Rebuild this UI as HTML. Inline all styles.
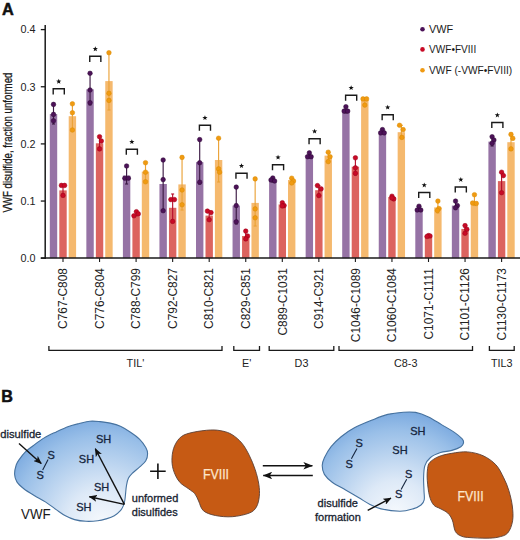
<!DOCTYPE html>
<html><head><meta charset="utf-8"><style>
html,body{margin:0;padding:0;background:#fff;width:520px;height:540px;overflow:hidden;}
svg{display:block;}
text{font-family:"Liberation Sans",sans-serif;}
</style></head><body>
<svg width="520" height="540" viewBox="0 0 520 540">
<rect width="520" height="540" fill="#fff"/>
<text x="2" y="14.8"  font-weight="bold" font-size="16.3" fill="#111" stroke="#111" stroke-width="0.5">A</text>
<text transform="translate(12.2,212.6) rotate(-90)"  font-size="12.6" fill="#1a1a1a" stroke="#1a1a1a" stroke-width="0.3" textLength="140" lengthAdjust="spacingAndGlyphs">VWF disulfide, fraction unformed</text>
<line x1="40.8" y1="258.20" x2="45.2" y2="258.20" stroke="#1a1a1a" stroke-width="1.3"/>
<text x="35.4" y="262.00" text-anchor="end"  font-size="10.8" fill="#222">0.0</text>
<line x1="40.8" y1="201.05" x2="45.2" y2="201.05" stroke="#1a1a1a" stroke-width="1.3"/>
<text x="35.4" y="204.85" text-anchor="end"  font-size="10.8" fill="#222">0.1</text>
<line x1="40.8" y1="143.90" x2="45.2" y2="143.90" stroke="#1a1a1a" stroke-width="1.3"/>
<text x="35.4" y="147.70" text-anchor="end"  font-size="10.8" fill="#222">0.2</text>
<line x1="40.8" y1="86.75" x2="45.2" y2="86.75" stroke="#1a1a1a" stroke-width="1.3"/>
<text x="35.4" y="90.55" text-anchor="end"  font-size="10.8" fill="#222">0.3</text>
<line x1="40.8" y1="29.60" x2="45.2" y2="29.60" stroke="#1a1a1a" stroke-width="1.3"/>
<text x="35.4" y="33.40" text-anchor="end"  font-size="10.8" fill="#222">0.4</text>
<rect x="49.80" y="114.10" width="7.4" height="144.10" fill="#9673a5"/>
<rect x="59.30" y="190.40" width="7.4" height="67.80" fill="#dc645f"/>
<rect x="68.70" y="116.20" width="7.4" height="142.00" fill="#f5b96e"/>
<rect x="86.35" y="89.30" width="7.4" height="168.90" fill="#9673a5"/>
<rect x="95.85" y="143.30" width="7.4" height="114.90" fill="#dc645f"/>
<rect x="105.25" y="81.10" width="7.4" height="177.10" fill="#f5b96e"/>
<rect x="122.90" y="175.60" width="7.4" height="82.60" fill="#9673a5"/>
<rect x="132.40" y="216.20" width="7.4" height="42.00" fill="#dc645f"/>
<rect x="141.80" y="171.60" width="7.4" height="86.60" fill="#f5b96e"/>
<rect x="159.45" y="184.00" width="7.4" height="74.20" fill="#9673a5"/>
<rect x="168.95" y="207.80" width="7.4" height="50.40" fill="#dc645f"/>
<rect x="178.35" y="184.40" width="7.4" height="73.80" fill="#f5b96e"/>
<rect x="196.00" y="162.20" width="7.4" height="96.00" fill="#9673a5"/>
<rect x="205.50" y="215.60" width="7.4" height="42.60" fill="#dc645f"/>
<rect x="214.90" y="160.00" width="7.4" height="98.20" fill="#f5b96e"/>
<rect x="232.55" y="205.60" width="7.4" height="52.60" fill="#9673a5"/>
<rect x="242.05" y="236.00" width="7.4" height="22.20" fill="#dc645f"/>
<rect x="251.45" y="202.90" width="7.4" height="55.30" fill="#f5b96e"/>
<rect x="269.10" y="180.00" width="7.4" height="78.20" fill="#9673a5"/>
<rect x="278.60" y="204.40" width="7.4" height="53.80" fill="#dc645f"/>
<rect x="288.00" y="180.00" width="7.4" height="78.20" fill="#f5b96e"/>
<rect x="305.65" y="155.60" width="7.4" height="102.60" fill="#9673a5"/>
<rect x="315.15" y="190.20" width="7.4" height="68.00" fill="#dc645f"/>
<rect x="324.55" y="155.60" width="7.4" height="102.60" fill="#f5b96e"/>
<rect x="342.20" y="110.00" width="7.4" height="148.20" fill="#9673a5"/>
<rect x="351.70" y="166.70" width="7.4" height="91.50" fill="#dc645f"/>
<rect x="361.10" y="100.00" width="7.4" height="158.20" fill="#f5b96e"/>
<rect x="378.75" y="131.10" width="7.4" height="127.10" fill="#9673a5"/>
<rect x="388.25" y="197.00" width="7.4" height="61.20" fill="#dc645f"/>
<rect x="397.65" y="132.20" width="7.4" height="126.00" fill="#f5b96e"/>
<rect x="415.30" y="208.90" width="7.4" height="49.30" fill="#9673a5"/>
<rect x="424.80" y="236.70" width="7.4" height="21.50" fill="#dc645f"/>
<rect x="434.20" y="207.40" width="7.4" height="50.80" fill="#f5b96e"/>
<rect x="451.85" y="205.60" width="7.4" height="52.60" fill="#9673a5"/>
<rect x="461.35" y="228.90" width="7.4" height="29.30" fill="#dc645f"/>
<rect x="470.75" y="201.50" width="7.4" height="56.70" fill="#f5b96e"/>
<rect x="488.40" y="141.60" width="7.4" height="116.60" fill="#9673a5"/>
<rect x="497.90" y="181.10" width="7.4" height="77.10" fill="#dc645f"/>
<rect x="507.30" y="142.20" width="7.4" height="116.00" fill="#f5b96e"/>
<line x1="53.50" y1="104.40" x2="53.50" y2="124.00" stroke="#3c1a44" stroke-width="1.15"/>
<line x1="52.00" y1="104.40" x2="55.00" y2="104.40" stroke="#3c1a44" stroke-width="1.15"/>
<line x1="52.00" y1="124.00" x2="55.00" y2="124.00" stroke="#3c1a44" stroke-width="1.15"/>
<circle cx="53.50" cy="104.40" r="2.3" fill="#4c1258" stroke="#2e0836" stroke-width="0.5"/>
<circle cx="53.50" cy="114.40" r="2.3" fill="#4c1258" stroke="#2e0836" stroke-width="0.5"/>
<circle cx="53.50" cy="120.80" r="2.3" fill="#4c1258" stroke="#2e0836" stroke-width="0.5"/>
<line x1="63.00" y1="185.00" x2="63.00" y2="195.40" stroke="#b8102c" stroke-width="1.15"/>
<line x1="61.50" y1="185.00" x2="64.50" y2="185.00" stroke="#b8102c" stroke-width="1.15"/>
<line x1="61.50" y1="195.40" x2="64.50" y2="195.40" stroke="#b8102c" stroke-width="1.15"/>
<circle cx="61.40" cy="185.40" r="2.3" fill="#c80a26" stroke="#9a0018" stroke-width="0.5"/>
<circle cx="64.60" cy="185.40" r="2.3" fill="#c80a26" stroke="#9a0018" stroke-width="0.5"/>
<circle cx="63.00" cy="195.40" r="2.3" fill="#c80a26" stroke="#9a0018" stroke-width="0.5"/>
<line x1="72.40" y1="103.80" x2="72.40" y2="130.00" stroke="#eba238" stroke-width="1.15"/>
<line x1="70.90" y1="103.80" x2="73.90" y2="103.80" stroke="#eba238" stroke-width="1.15"/>
<line x1="70.90" y1="130.00" x2="73.90" y2="130.00" stroke="#eba238" stroke-width="1.15"/>
<circle cx="72.40" cy="103.80" r="2.3" fill="#f09a12" stroke="#d88a00" stroke-width="0.5"/>
<circle cx="72.40" cy="112.70" r="2.3" fill="#f09a12" stroke="#d88a00" stroke-width="0.5"/>
<circle cx="72.40" cy="130.00" r="2.3" fill="#f09a12" stroke="#d88a00" stroke-width="0.5"/>
<path d="M53.20 94.40V88.80H64.30V94.40" fill="none" stroke="#1a1a1a" stroke-width="1.4"/>
<polygon points="58.75,78.75 59.43,80.57 61.37,80.65 59.84,81.86 60.37,83.72 58.75,82.65 57.13,83.72 57.66,81.86 56.13,80.65 58.07,80.57" fill="#111"/>
<line x1="90.05" y1="73.30" x2="90.05" y2="105.00" stroke="#3c1a44" stroke-width="1.15"/>
<line x1="88.55" y1="73.30" x2="91.55" y2="73.30" stroke="#3c1a44" stroke-width="1.15"/>
<line x1="88.55" y1="105.00" x2="91.55" y2="105.00" stroke="#3c1a44" stroke-width="1.15"/>
<circle cx="90.05" cy="73.30" r="2.3" fill="#4c1258" stroke="#2e0836" stroke-width="0.5"/>
<circle cx="90.05" cy="90.00" r="2.3" fill="#4c1258" stroke="#2e0836" stroke-width="0.5"/>
<circle cx="90.05" cy="102.70" r="2.3" fill="#4c1258" stroke="#2e0836" stroke-width="0.5"/>
<line x1="99.55" y1="136.70" x2="99.55" y2="150.00" stroke="#b8102c" stroke-width="1.15"/>
<line x1="98.05" y1="136.70" x2="101.05" y2="136.70" stroke="#b8102c" stroke-width="1.15"/>
<line x1="98.05" y1="150.00" x2="101.05" y2="150.00" stroke="#b8102c" stroke-width="1.15"/>
<circle cx="99.55" cy="136.70" r="2.3" fill="#c80a26" stroke="#9a0018" stroke-width="0.5"/>
<circle cx="101.35" cy="141.00" r="2.3" fill="#c80a26" stroke="#9a0018" stroke-width="0.5"/>
<circle cx="99.55" cy="148.90" r="2.3" fill="#c80a26" stroke="#9a0018" stroke-width="0.5"/>
<line x1="108.95" y1="52.70" x2="108.95" y2="110.00" stroke="#eba238" stroke-width="1.15"/>
<line x1="107.45" y1="52.70" x2="110.45" y2="52.70" stroke="#eba238" stroke-width="1.15"/>
<line x1="107.45" y1="110.00" x2="110.45" y2="110.00" stroke="#eba238" stroke-width="1.15"/>
<circle cx="108.95" cy="52.70" r="2.3" fill="#f09a12" stroke="#d88a00" stroke-width="0.5"/>
<circle cx="108.95" cy="93.30" r="2.3" fill="#f09a12" stroke="#d88a00" stroke-width="0.5"/>
<circle cx="108.95" cy="100.40" r="2.3" fill="#f09a12" stroke="#d88a00" stroke-width="0.5"/>
<path d="M89.75 61.90V56.30H100.85V61.90" fill="none" stroke="#1a1a1a" stroke-width="1.4"/>
<polygon points="95.30,46.25 95.98,48.07 97.92,48.15 96.39,49.36 96.92,51.22 95.30,50.15 93.68,51.22 94.21,49.36 92.68,48.15 94.62,48.07" fill="#111"/>
<line x1="126.60" y1="166.00" x2="126.60" y2="184.00" stroke="#3c1a44" stroke-width="1.15"/>
<line x1="125.10" y1="166.00" x2="128.10" y2="166.00" stroke="#3c1a44" stroke-width="1.15"/>
<line x1="125.10" y1="184.00" x2="128.10" y2="184.00" stroke="#3c1a44" stroke-width="1.15"/>
<circle cx="126.60" cy="166.00" r="2.3" fill="#4c1258" stroke="#2e0836" stroke-width="0.5"/>
<circle cx="124.80" cy="178.20" r="2.3" fill="#4c1258" stroke="#2e0836" stroke-width="0.5"/>
<circle cx="128.40" cy="178.20" r="2.3" fill="#4c1258" stroke="#2e0836" stroke-width="0.5"/>
<line x1="136.10" y1="211.70" x2="136.10" y2="216.00" stroke="#b8102c" stroke-width="1.15"/>
<line x1="134.60" y1="211.70" x2="137.60" y2="211.70" stroke="#b8102c" stroke-width="1.15"/>
<line x1="134.60" y1="216.00" x2="137.60" y2="216.00" stroke="#b8102c" stroke-width="1.15"/>
<circle cx="136.40" cy="211.70" r="2.3" fill="#c80a26" stroke="#9a0018" stroke-width="0.5"/>
<circle cx="138.30" cy="213.90" r="2.3" fill="#c80a26" stroke="#9a0018" stroke-width="0.5"/>
<circle cx="133.90" cy="215.80" r="2.3" fill="#c80a26" stroke="#9a0018" stroke-width="0.5"/>
<line x1="145.50" y1="162.70" x2="145.50" y2="181.80" stroke="#eba238" stroke-width="1.15"/>
<line x1="144.00" y1="162.70" x2="147.00" y2="162.70" stroke="#eba238" stroke-width="1.15"/>
<line x1="144.00" y1="181.80" x2="147.00" y2="181.80" stroke="#eba238" stroke-width="1.15"/>
<circle cx="145.50" cy="162.70" r="2.3" fill="#f09a12" stroke="#d88a00" stroke-width="0.5"/>
<circle cx="145.50" cy="172.20" r="2.3" fill="#f09a12" stroke="#d88a00" stroke-width="0.5"/>
<circle cx="145.50" cy="181.80" r="2.3" fill="#f09a12" stroke="#d88a00" stroke-width="0.5"/>
<path d="M126.30 154.80V149.20H137.40V154.80" fill="none" stroke="#1a1a1a" stroke-width="1.4"/>
<polygon points="131.85,139.15 132.53,140.97 134.47,141.05 132.94,142.26 133.47,144.12 131.85,143.05 130.23,144.12 130.76,142.26 129.23,141.05 131.17,140.97" fill="#111"/>
<line x1="163.15" y1="160.00" x2="163.15" y2="210.70" stroke="#3c1a44" stroke-width="1.15"/>
<line x1="161.65" y1="160.00" x2="164.65" y2="160.00" stroke="#3c1a44" stroke-width="1.15"/>
<line x1="161.65" y1="210.70" x2="164.65" y2="210.70" stroke="#3c1a44" stroke-width="1.15"/>
<circle cx="163.15" cy="160.00" r="2.3" fill="#4c1258" stroke="#2e0836" stroke-width="0.5"/>
<circle cx="163.15" cy="179.60" r="2.3" fill="#4c1258" stroke="#2e0836" stroke-width="0.5"/>
<circle cx="163.15" cy="210.70" r="2.3" fill="#4c1258" stroke="#2e0836" stroke-width="0.5"/>
<line x1="172.65" y1="194.00" x2="172.65" y2="221.40" stroke="#b8102c" stroke-width="1.15"/>
<line x1="171.15" y1="194.00" x2="174.15" y2="194.00" stroke="#b8102c" stroke-width="1.15"/>
<line x1="171.15" y1="221.40" x2="174.15" y2="221.40" stroke="#b8102c" stroke-width="1.15"/>
<circle cx="170.85" cy="199.60" r="2.3" fill="#c80a26" stroke="#9a0018" stroke-width="0.5"/>
<circle cx="174.45" cy="199.60" r="2.3" fill="#c80a26" stroke="#9a0018" stroke-width="0.5"/>
<circle cx="172.65" cy="221.40" r="2.3" fill="#c80a26" stroke="#9a0018" stroke-width="0.5"/>
<line x1="182.05" y1="157.40" x2="182.05" y2="210.00" stroke="#eba238" stroke-width="1.15"/>
<line x1="180.55" y1="157.40" x2="183.55" y2="157.40" stroke="#eba238" stroke-width="1.15"/>
<line x1="180.55" y1="210.00" x2="183.55" y2="210.00" stroke="#eba238" stroke-width="1.15"/>
<circle cx="182.05" cy="157.40" r="2.3" fill="#f09a12" stroke="#d88a00" stroke-width="0.5"/>
<circle cx="182.05" cy="190.00" r="2.3" fill="#f09a12" stroke="#d88a00" stroke-width="0.5"/>
<circle cx="182.05" cy="204.80" r="2.3" fill="#f09a12" stroke="#d88a00" stroke-width="0.5"/>
<line x1="199.70" y1="139.60" x2="199.70" y2="184.00" stroke="#3c1a44" stroke-width="1.15"/>
<line x1="198.20" y1="139.60" x2="201.20" y2="139.60" stroke="#3c1a44" stroke-width="1.15"/>
<line x1="198.20" y1="184.00" x2="201.20" y2="184.00" stroke="#3c1a44" stroke-width="1.15"/>
<circle cx="199.70" cy="139.60" r="2.3" fill="#4c1258" stroke="#2e0836" stroke-width="0.5"/>
<circle cx="199.70" cy="162.70" r="2.3" fill="#4c1258" stroke="#2e0836" stroke-width="0.5"/>
<circle cx="199.70" cy="182.20" r="2.3" fill="#4c1258" stroke="#2e0836" stroke-width="0.5"/>
<line x1="209.20" y1="211.00" x2="209.20" y2="220.00" stroke="#b8102c" stroke-width="1.15"/>
<line x1="207.70" y1="211.00" x2="210.70" y2="211.00" stroke="#b8102c" stroke-width="1.15"/>
<line x1="207.70" y1="220.00" x2="210.70" y2="220.00" stroke="#b8102c" stroke-width="1.15"/>
<circle cx="207.40" cy="211.10" r="2.3" fill="#c80a26" stroke="#9a0018" stroke-width="0.5"/>
<circle cx="211.00" cy="212.60" r="2.3" fill="#c80a26" stroke="#9a0018" stroke-width="0.5"/>
<circle cx="209.20" cy="219.70" r="2.3" fill="#c80a26" stroke="#9a0018" stroke-width="0.5"/>
<line x1="218.60" y1="138.20" x2="218.60" y2="182.00" stroke="#eba238" stroke-width="1.15"/>
<line x1="217.10" y1="138.20" x2="220.10" y2="138.20" stroke="#eba238" stroke-width="1.15"/>
<line x1="217.10" y1="182.00" x2="220.10" y2="182.00" stroke="#eba238" stroke-width="1.15"/>
<circle cx="218.60" cy="138.20" r="2.3" fill="#f09a12" stroke="#d88a00" stroke-width="0.5"/>
<circle cx="218.60" cy="168.90" r="2.3" fill="#f09a12" stroke="#d88a00" stroke-width="0.5"/>
<circle cx="219.60" cy="172.20" r="2.3" fill="#f09a12" stroke="#d88a00" stroke-width="0.5"/>
<path d="M199.40 130.80V125.20H210.50V130.80" fill="none" stroke="#1a1a1a" stroke-width="1.4"/>
<polygon points="204.95,115.15 205.63,116.97 207.57,117.05 206.04,118.26 206.57,120.12 204.95,119.05 203.33,120.12 203.86,118.26 202.33,117.05 204.27,116.97" fill="#111"/>
<line x1="236.25" y1="187.10" x2="236.25" y2="224.00" stroke="#3c1a44" stroke-width="1.15"/>
<line x1="234.75" y1="187.10" x2="237.75" y2="187.10" stroke="#3c1a44" stroke-width="1.15"/>
<line x1="234.75" y1="224.00" x2="237.75" y2="224.00" stroke="#3c1a44" stroke-width="1.15"/>
<circle cx="236.25" cy="187.10" r="2.3" fill="#4c1258" stroke="#2e0836" stroke-width="0.5"/>
<circle cx="236.25" cy="205.60" r="2.3" fill="#4c1258" stroke="#2e0836" stroke-width="0.5"/>
<circle cx="236.25" cy="221.80" r="2.3" fill="#4c1258" stroke="#2e0836" stroke-width="0.5"/>
<line x1="245.75" y1="231.00" x2="245.75" y2="240.00" stroke="#b8102c" stroke-width="1.15"/>
<line x1="244.25" y1="231.00" x2="247.25" y2="231.00" stroke="#b8102c" stroke-width="1.15"/>
<line x1="244.25" y1="240.00" x2="247.25" y2="240.00" stroke="#b8102c" stroke-width="1.15"/>
<circle cx="245.75" cy="231.10" r="2.3" fill="#c80a26" stroke="#9a0018" stroke-width="0.5"/>
<circle cx="247.55" cy="236.00" r="2.3" fill="#c80a26" stroke="#9a0018" stroke-width="0.5"/>
<circle cx="245.75" cy="238.90" r="2.3" fill="#c80a26" stroke="#9a0018" stroke-width="0.5"/>
<line x1="255.15" y1="178.90" x2="255.15" y2="226.00" stroke="#eba238" stroke-width="1.15"/>
<line x1="253.65" y1="178.90" x2="256.65" y2="178.90" stroke="#eba238" stroke-width="1.15"/>
<line x1="253.65" y1="226.00" x2="256.65" y2="226.00" stroke="#eba238" stroke-width="1.15"/>
<circle cx="255.15" cy="178.90" r="2.3" fill="#f09a12" stroke="#d88a00" stroke-width="0.5"/>
<circle cx="255.15" cy="208.90" r="2.3" fill="#f09a12" stroke="#d88a00" stroke-width="0.5"/>
<circle cx="255.15" cy="217.80" r="2.3" fill="#f09a12" stroke="#d88a00" stroke-width="0.5"/>
<path d="M235.95 178.80V173.20H247.05V178.80" fill="none" stroke="#1a1a1a" stroke-width="1.4"/>
<polygon points="241.50,163.15 242.18,164.97 244.12,165.05 242.59,166.26 243.12,168.12 241.50,167.05 239.88,168.12 240.41,166.26 238.88,165.05 240.82,164.97" fill="#111"/>
<line x1="272.80" y1="178.00" x2="272.80" y2="182.00" stroke="#3c1a44" stroke-width="1.15"/>
<line x1="271.30" y1="178.00" x2="274.30" y2="178.00" stroke="#3c1a44" stroke-width="1.15"/>
<line x1="271.30" y1="182.00" x2="274.30" y2="182.00" stroke="#3c1a44" stroke-width="1.15"/>
<circle cx="272.80" cy="178.00" r="2.3" fill="#4c1258" stroke="#2e0836" stroke-width="0.5"/>
<circle cx="271.00" cy="180.00" r="2.3" fill="#4c1258" stroke="#2e0836" stroke-width="0.5"/>
<circle cx="274.60" cy="181.00" r="2.3" fill="#4c1258" stroke="#2e0836" stroke-width="0.5"/>
<line x1="282.30" y1="202.00" x2="282.30" y2="206.00" stroke="#b8102c" stroke-width="1.15"/>
<line x1="280.80" y1="202.00" x2="283.80" y2="202.00" stroke="#b8102c" stroke-width="1.15"/>
<line x1="280.80" y1="206.00" x2="283.80" y2="206.00" stroke="#b8102c" stroke-width="1.15"/>
<circle cx="282.30" cy="202.70" r="2.3" fill="#c80a26" stroke="#9a0018" stroke-width="0.5"/>
<circle cx="284.10" cy="205.60" r="2.3" fill="#c80a26" stroke="#9a0018" stroke-width="0.5"/>
<circle cx="282.30" cy="206.00" r="2.3" fill="#c80a26" stroke="#9a0018" stroke-width="0.5"/>
<line x1="291.70" y1="178.00" x2="291.70" y2="183.00" stroke="#eba238" stroke-width="1.15"/>
<line x1="290.20" y1="178.00" x2="293.20" y2="178.00" stroke="#eba238" stroke-width="1.15"/>
<line x1="290.20" y1="183.00" x2="293.20" y2="183.00" stroke="#eba238" stroke-width="1.15"/>
<circle cx="291.70" cy="178.20" r="2.3" fill="#f09a12" stroke="#d88a00" stroke-width="0.5"/>
<circle cx="293.50" cy="181.00" r="2.3" fill="#f09a12" stroke="#d88a00" stroke-width="0.5"/>
<circle cx="291.70" cy="183.00" r="2.3" fill="#f09a12" stroke="#d88a00" stroke-width="0.5"/>
<path d="M272.50 170.30V164.70H283.60V170.30" fill="none" stroke="#1a1a1a" stroke-width="1.4"/>
<polygon points="278.05,154.65 278.73,156.47 280.67,156.55 279.14,157.76 279.67,159.62 278.05,158.55 276.43,159.62 276.96,157.76 275.43,156.55 277.37,156.47" fill="#111"/>
<line x1="309.35" y1="152.90" x2="309.35" y2="158.00" stroke="#3c1a44" stroke-width="1.15"/>
<line x1="307.85" y1="152.90" x2="310.85" y2="152.90" stroke="#3c1a44" stroke-width="1.15"/>
<line x1="307.85" y1="158.00" x2="310.85" y2="158.00" stroke="#3c1a44" stroke-width="1.15"/>
<circle cx="309.35" cy="152.90" r="2.3" fill="#4c1258" stroke="#2e0836" stroke-width="0.5"/>
<circle cx="307.55" cy="156.70" r="2.3" fill="#4c1258" stroke="#2e0836" stroke-width="0.5"/>
<circle cx="311.15" cy="156.70" r="2.3" fill="#4c1258" stroke="#2e0836" stroke-width="0.5"/>
<line x1="318.85" y1="185.60" x2="318.85" y2="195.60" stroke="#b8102c" stroke-width="1.15"/>
<line x1="317.35" y1="185.60" x2="320.35" y2="185.60" stroke="#b8102c" stroke-width="1.15"/>
<line x1="317.35" y1="195.60" x2="320.35" y2="195.60" stroke="#b8102c" stroke-width="1.15"/>
<circle cx="317.45" cy="185.60" r="2.3" fill="#c80a26" stroke="#9a0018" stroke-width="0.5"/>
<circle cx="321.05" cy="188.90" r="2.3" fill="#c80a26" stroke="#9a0018" stroke-width="0.5"/>
<circle cx="318.85" cy="195.60" r="2.3" fill="#c80a26" stroke="#9a0018" stroke-width="0.5"/>
<line x1="328.25" y1="152.00" x2="328.25" y2="162.00" stroke="#eba238" stroke-width="1.15"/>
<line x1="326.75" y1="152.00" x2="329.75" y2="152.00" stroke="#eba238" stroke-width="1.15"/>
<line x1="326.75" y1="162.00" x2="329.75" y2="162.00" stroke="#eba238" stroke-width="1.15"/>
<circle cx="328.25" cy="152.20" r="2.3" fill="#f09a12" stroke="#d88a00" stroke-width="0.5"/>
<circle cx="330.05" cy="156.70" r="2.3" fill="#f09a12" stroke="#d88a00" stroke-width="0.5"/>
<circle cx="328.25" cy="161.60" r="2.3" fill="#f09a12" stroke="#d88a00" stroke-width="0.5"/>
<path d="M309.05 144.30V138.70H320.15V144.30" fill="none" stroke="#1a1a1a" stroke-width="1.4"/>
<polygon points="314.60,128.65 315.28,130.47 317.22,130.55 315.69,131.76 316.22,133.62 314.60,132.55 312.98,133.62 313.51,131.76 311.98,130.55 313.92,130.47" fill="#111"/>
<line x1="345.90" y1="106.70" x2="345.90" y2="113.00" stroke="#3c1a44" stroke-width="1.15"/>
<line x1="344.40" y1="106.70" x2="347.40" y2="106.70" stroke="#3c1a44" stroke-width="1.15"/>
<line x1="344.40" y1="113.00" x2="347.40" y2="113.00" stroke="#3c1a44" stroke-width="1.15"/>
<circle cx="345.90" cy="106.70" r="2.3" fill="#4c1258" stroke="#2e0836" stroke-width="0.5"/>
<circle cx="344.10" cy="111.10" r="2.3" fill="#4c1258" stroke="#2e0836" stroke-width="0.5"/>
<circle cx="347.70" cy="111.10" r="2.3" fill="#4c1258" stroke="#2e0836" stroke-width="0.5"/>
<line x1="355.40" y1="157.80" x2="355.40" y2="175.00" stroke="#b8102c" stroke-width="1.15"/>
<line x1="353.90" y1="157.80" x2="356.90" y2="157.80" stroke="#b8102c" stroke-width="1.15"/>
<line x1="353.90" y1="175.00" x2="356.90" y2="175.00" stroke="#b8102c" stroke-width="1.15"/>
<circle cx="355.40" cy="157.80" r="2.3" fill="#c80a26" stroke="#9a0018" stroke-width="0.5"/>
<circle cx="355.40" cy="167.80" r="2.3" fill="#c80a26" stroke="#9a0018" stroke-width="0.5"/>
<circle cx="355.40" cy="173.30" r="2.3" fill="#c80a26" stroke="#9a0018" stroke-width="0.5"/>
<line x1="364.80" y1="98.00" x2="364.80" y2="105.00" stroke="#eba238" stroke-width="1.15"/>
<line x1="363.30" y1="98.00" x2="366.30" y2="98.00" stroke="#eba238" stroke-width="1.15"/>
<line x1="363.30" y1="105.00" x2="366.30" y2="105.00" stroke="#eba238" stroke-width="1.15"/>
<circle cx="363.00" cy="98.90" r="2.3" fill="#f09a12" stroke="#d88a00" stroke-width="0.5"/>
<circle cx="366.60" cy="98.90" r="2.3" fill="#f09a12" stroke="#d88a00" stroke-width="0.5"/>
<circle cx="364.80" cy="105.10" r="2.3" fill="#f09a12" stroke="#d88a00" stroke-width="0.5"/>
<path d="M345.60 100.80V95.20H356.70V100.80" fill="none" stroke="#1a1a1a" stroke-width="1.4"/>
<polygon points="351.15,85.15 351.83,86.97 353.77,87.05 352.24,88.26 352.77,90.12 351.15,89.05 349.53,90.12 350.06,88.26 348.53,87.05 350.47,86.97" fill="#111"/>
<line x1="382.45" y1="129.60" x2="382.45" y2="133.00" stroke="#3c1a44" stroke-width="1.15"/>
<line x1="380.95" y1="129.60" x2="383.95" y2="129.60" stroke="#3c1a44" stroke-width="1.15"/>
<line x1="380.95" y1="133.00" x2="383.95" y2="133.00" stroke="#3c1a44" stroke-width="1.15"/>
<circle cx="382.45" cy="129.60" r="2.3" fill="#4c1258" stroke="#2e0836" stroke-width="0.5"/>
<circle cx="380.65" cy="132.90" r="2.3" fill="#4c1258" stroke="#2e0836" stroke-width="0.5"/>
<circle cx="384.25" cy="132.90" r="2.3" fill="#4c1258" stroke="#2e0836" stroke-width="0.5"/>
<line x1="391.95" y1="196.00" x2="391.95" y2="199.00" stroke="#b8102c" stroke-width="1.15"/>
<line x1="390.45" y1="196.00" x2="393.45" y2="196.00" stroke="#b8102c" stroke-width="1.15"/>
<line x1="390.45" y1="199.00" x2="393.45" y2="199.00" stroke="#b8102c" stroke-width="1.15"/>
<circle cx="391.95" cy="196.20" r="2.3" fill="#c80a26" stroke="#9a0018" stroke-width="0.5"/>
<circle cx="393.75" cy="198.90" r="2.3" fill="#c80a26" stroke="#9a0018" stroke-width="0.5"/>
<circle cx="391.95" cy="198.00" r="2.3" fill="#c80a26" stroke="#9a0018" stroke-width="0.5"/>
<line x1="401.35" y1="125.30" x2="401.35" y2="138.00" stroke="#eba238" stroke-width="1.15"/>
<line x1="399.85" y1="125.30" x2="402.85" y2="125.30" stroke="#eba238" stroke-width="1.15"/>
<line x1="399.85" y1="138.00" x2="402.85" y2="138.00" stroke="#eba238" stroke-width="1.15"/>
<circle cx="399.55" cy="125.30" r="2.3" fill="#f09a12" stroke="#d88a00" stroke-width="0.5"/>
<circle cx="403.15" cy="129.60" r="2.3" fill="#f09a12" stroke="#d88a00" stroke-width="0.5"/>
<circle cx="401.85" cy="137.40" r="2.3" fill="#f09a12" stroke="#d88a00" stroke-width="0.5"/>
<path d="M382.15 120.30V114.70H393.25V120.30" fill="none" stroke="#1a1a1a" stroke-width="1.4"/>
<polygon points="387.70,104.65 388.38,106.47 390.32,106.55 388.79,107.76 389.32,109.62 387.70,108.55 386.08,109.62 386.61,107.76 385.08,106.55 387.02,106.47" fill="#111"/>
<line x1="419.00" y1="206.00" x2="419.00" y2="211.00" stroke="#3c1a44" stroke-width="1.15"/>
<line x1="417.50" y1="206.00" x2="420.50" y2="206.00" stroke="#3c1a44" stroke-width="1.15"/>
<line x1="417.50" y1="211.00" x2="420.50" y2="211.00" stroke="#3c1a44" stroke-width="1.15"/>
<circle cx="419.00" cy="206.20" r="2.3" fill="#4c1258" stroke="#2e0836" stroke-width="0.5"/>
<circle cx="417.20" cy="210.00" r="2.3" fill="#4c1258" stroke="#2e0836" stroke-width="0.5"/>
<circle cx="420.80" cy="210.00" r="2.3" fill="#4c1258" stroke="#2e0836" stroke-width="0.5"/>
<line x1="428.50" y1="235.00" x2="428.50" y2="237.00" stroke="#b8102c" stroke-width="1.15"/>
<line x1="427.00" y1="235.00" x2="430.00" y2="235.00" stroke="#b8102c" stroke-width="1.15"/>
<line x1="427.00" y1="237.00" x2="430.00" y2="237.00" stroke="#b8102c" stroke-width="1.15"/>
<circle cx="428.50" cy="235.60" r="2.3" fill="#c80a26" stroke="#9a0018" stroke-width="0.5"/>
<circle cx="430.00" cy="236.00" r="2.3" fill="#c80a26" stroke="#9a0018" stroke-width="0.5"/>
<circle cx="427.00" cy="236.50" r="2.3" fill="#c80a26" stroke="#9a0018" stroke-width="0.5"/>
<line x1="437.90" y1="201.10" x2="437.90" y2="213.00" stroke="#eba238" stroke-width="1.15"/>
<line x1="436.40" y1="201.10" x2="439.40" y2="201.10" stroke="#eba238" stroke-width="1.15"/>
<line x1="436.40" y1="213.00" x2="439.40" y2="213.00" stroke="#eba238" stroke-width="1.15"/>
<circle cx="437.90" cy="201.10" r="2.3" fill="#f09a12" stroke="#d88a00" stroke-width="0.5"/>
<circle cx="438.90" cy="208.50" r="2.3" fill="#f09a12" stroke="#d88a00" stroke-width="0.5"/>
<circle cx="437.40" cy="210.50" r="2.3" fill="#f09a12" stroke="#d88a00" stroke-width="0.5"/>
<path d="M418.70 198.10V192.50H429.80V198.10" fill="none" stroke="#1a1a1a" stroke-width="1.4"/>
<polygon points="424.25,182.45 424.93,184.27 426.87,184.35 425.34,185.56 425.87,187.42 424.25,186.35 422.63,187.42 423.16,185.56 421.63,184.35 423.57,184.27" fill="#111"/>
<line x1="455.55" y1="201.00" x2="455.55" y2="209.00" stroke="#3c1a44" stroke-width="1.15"/>
<line x1="454.05" y1="201.00" x2="457.05" y2="201.00" stroke="#3c1a44" stroke-width="1.15"/>
<line x1="454.05" y1="209.00" x2="457.05" y2="209.00" stroke="#3c1a44" stroke-width="1.15"/>
<circle cx="455.55" cy="201.10" r="2.3" fill="#4c1258" stroke="#2e0836" stroke-width="0.5"/>
<circle cx="457.35" cy="205.60" r="2.3" fill="#4c1258" stroke="#2e0836" stroke-width="0.5"/>
<circle cx="455.55" cy="207.80" r="2.3" fill="#4c1258" stroke="#2e0836" stroke-width="0.5"/>
<line x1="465.05" y1="225.60" x2="465.05" y2="233.00" stroke="#b8102c" stroke-width="1.15"/>
<line x1="463.55" y1="225.60" x2="466.55" y2="225.60" stroke="#b8102c" stroke-width="1.15"/>
<line x1="463.55" y1="233.00" x2="466.55" y2="233.00" stroke="#b8102c" stroke-width="1.15"/>
<circle cx="465.05" cy="225.60" r="2.3" fill="#c80a26" stroke="#9a0018" stroke-width="0.5"/>
<circle cx="466.85" cy="229.30" r="2.3" fill="#c80a26" stroke="#9a0018" stroke-width="0.5"/>
<circle cx="465.05" cy="233.30" r="2.3" fill="#c80a26" stroke="#9a0018" stroke-width="0.5"/>
<line x1="474.45" y1="194.70" x2="474.45" y2="205.50" stroke="#eba238" stroke-width="1.15"/>
<line x1="472.95" y1="194.70" x2="475.95" y2="194.70" stroke="#eba238" stroke-width="1.15"/>
<line x1="472.95" y1="205.50" x2="475.95" y2="205.50" stroke="#eba238" stroke-width="1.15"/>
<circle cx="474.45" cy="194.70" r="2.3" fill="#f09a12" stroke="#d88a00" stroke-width="0.5"/>
<circle cx="472.65" cy="203.00" r="2.3" fill="#f09a12" stroke="#d88a00" stroke-width="0.5"/>
<circle cx="476.25" cy="203.50" r="2.3" fill="#f09a12" stroke="#d88a00" stroke-width="0.5"/>
<path d="M455.25 192.60V187.00H466.35V192.60" fill="none" stroke="#1a1a1a" stroke-width="1.4"/>
<polygon points="460.80,176.95 461.48,178.77 463.42,178.85 461.89,180.06 462.42,181.92 460.80,180.85 459.18,181.92 459.71,180.06 458.18,178.85 460.12,178.77" fill="#111"/>
<line x1="492.10" y1="136.70" x2="492.10" y2="146.00" stroke="#3c1a44" stroke-width="1.15"/>
<line x1="490.60" y1="136.70" x2="493.60" y2="136.70" stroke="#3c1a44" stroke-width="1.15"/>
<line x1="490.60" y1="146.00" x2="493.60" y2="146.00" stroke="#3c1a44" stroke-width="1.15"/>
<circle cx="492.10" cy="136.70" r="2.3" fill="#4c1258" stroke="#2e0836" stroke-width="0.5"/>
<circle cx="493.90" cy="140.00" r="2.3" fill="#4c1258" stroke="#2e0836" stroke-width="0.5"/>
<circle cx="492.10" cy="143.30" r="2.3" fill="#4c1258" stroke="#2e0836" stroke-width="0.5"/>
<line x1="501.60" y1="172.20" x2="501.60" y2="192.70" stroke="#b8102c" stroke-width="1.15"/>
<line x1="500.10" y1="172.20" x2="503.10" y2="172.20" stroke="#b8102c" stroke-width="1.15"/>
<line x1="500.10" y1="192.70" x2="503.10" y2="192.70" stroke="#b8102c" stroke-width="1.15"/>
<circle cx="501.60" cy="172.20" r="2.3" fill="#c80a26" stroke="#9a0018" stroke-width="0.5"/>
<circle cx="503.40" cy="175.60" r="2.3" fill="#c80a26" stroke="#9a0018" stroke-width="0.5"/>
<circle cx="501.60" cy="192.70" r="2.3" fill="#c80a26" stroke="#9a0018" stroke-width="0.5"/>
<line x1="511.00" y1="134.40" x2="511.00" y2="150.00" stroke="#eba238" stroke-width="1.15"/>
<line x1="509.50" y1="134.40" x2="512.50" y2="134.40" stroke="#eba238" stroke-width="1.15"/>
<line x1="509.50" y1="150.00" x2="512.50" y2="150.00" stroke="#eba238" stroke-width="1.15"/>
<circle cx="511.00" cy="134.40" r="2.3" fill="#f09a12" stroke="#d88a00" stroke-width="0.5"/>
<circle cx="512.80" cy="138.40" r="2.3" fill="#f09a12" stroke="#d88a00" stroke-width="0.5"/>
<circle cx="511.00" cy="148.90" r="2.3" fill="#f09a12" stroke="#d88a00" stroke-width="0.5"/>
<path d="M491.80 128.10V122.50H502.90V128.10" fill="none" stroke="#1a1a1a" stroke-width="1.4"/>
<polygon points="497.35,112.45 498.03,114.27 499.97,114.35 498.44,115.56 498.97,117.42 497.35,116.35 495.73,117.42 496.26,115.56 494.73,114.35 496.67,114.27" fill="#111"/>
<line x1="45.2" y1="25" x2="45.2" y2="258.9" stroke="#1a1a1a" stroke-width="1.5"/>
<line x1="40.8" y1="258.1" x2="520" y2="258.1" stroke="#1a1a1a" stroke-width="1.5"/>
<line x1="63.00" y1="258" x2="63.00" y2="262" stroke="#1a1a1a" stroke-width="1.1"/>
<text transform="translate(67.20,268.1) rotate(-90)" text-anchor="end"  font-size="11.9" fill="#222">C767-C808</text>
<line x1="99.55" y1="258" x2="99.55" y2="262" stroke="#1a1a1a" stroke-width="1.1"/>
<text transform="translate(103.75,268.1) rotate(-90)" text-anchor="end"  font-size="11.9" fill="#222">C776-C804</text>
<line x1="136.10" y1="258" x2="136.10" y2="262" stroke="#1a1a1a" stroke-width="1.1"/>
<text transform="translate(140.30,268.1) rotate(-90)" text-anchor="end"  font-size="11.9" fill="#222">C788-C799</text>
<line x1="172.65" y1="258" x2="172.65" y2="262" stroke="#1a1a1a" stroke-width="1.1"/>
<text transform="translate(176.85,268.1) rotate(-90)" text-anchor="end"  font-size="11.9" fill="#222">C792-C827</text>
<line x1="209.20" y1="258" x2="209.20" y2="262" stroke="#1a1a1a" stroke-width="1.1"/>
<text transform="translate(213.40,268.1) rotate(-90)" text-anchor="end"  font-size="11.9" fill="#222">C810-C821</text>
<line x1="245.75" y1="258" x2="245.75" y2="262" stroke="#1a1a1a" stroke-width="1.1"/>
<text transform="translate(249.95,268.1) rotate(-90)" text-anchor="end"  font-size="11.9" fill="#222">C829-C851</text>
<line x1="282.30" y1="258" x2="282.30" y2="262" stroke="#1a1a1a" stroke-width="1.1"/>
<text transform="translate(286.50,268.1) rotate(-90)" text-anchor="end"  font-size="11.9" fill="#222">C889-C1031</text>
<line x1="318.85" y1="258" x2="318.85" y2="262" stroke="#1a1a1a" stroke-width="1.1"/>
<text transform="translate(323.05,268.1) rotate(-90)" text-anchor="end"  font-size="11.9" fill="#222">C914-C921</text>
<line x1="355.40" y1="258" x2="355.40" y2="262" stroke="#1a1a1a" stroke-width="1.1"/>
<text transform="translate(359.60,268.1) rotate(-90)" text-anchor="end"  font-size="11.9" fill="#222">C1046-C1089</text>
<line x1="391.95" y1="258" x2="391.95" y2="262" stroke="#1a1a1a" stroke-width="1.1"/>
<text transform="translate(396.15,268.1) rotate(-90)" text-anchor="end"  font-size="11.9" fill="#222">C1060-C1084</text>
<line x1="428.50" y1="258" x2="428.50" y2="262" stroke="#1a1a1a" stroke-width="1.1"/>
<text transform="translate(432.70,268.1) rotate(-90)" text-anchor="end"  font-size="11.9" fill="#222">C1071-C1111</text>
<line x1="465.05" y1="258" x2="465.05" y2="262" stroke="#1a1a1a" stroke-width="1.1"/>
<text transform="translate(469.25,268.1) rotate(-90)" text-anchor="end"  font-size="11.9" fill="#222">C1101-C1126</text>
<line x1="501.60" y1="258" x2="501.60" y2="262" stroke="#1a1a1a" stroke-width="1.1"/>
<text transform="translate(505.80,268.1) rotate(-90)" text-anchor="end"  font-size="11.9" fill="#222">C1130-C1173</text>
<path d="M48.90 346V350.4H222.00V346" fill="none" stroke="#1a1a1a" stroke-width="1.3"/>
<text x="135.45" y="366.5" text-anchor="middle"  font-size="10.8" fill="#222">TIL'</text>
<path d="M233.80 346V350.4H259.50V346" fill="none" stroke="#1a1a1a" stroke-width="1.3"/>
<text x="246.65" y="366.5" text-anchor="middle"  font-size="10.8" fill="#222">E'</text>
<path d="M269.20 346V350.4H333.80V346" fill="none" stroke="#1a1a1a" stroke-width="1.3"/>
<text x="301.50" y="366.5" text-anchor="middle"  font-size="10.8" fill="#222">D3</text>
<path d="M339.00 346V350.4H472.50V346" fill="none" stroke="#1a1a1a" stroke-width="1.3"/>
<text x="405.75" y="366.5" text-anchor="middle"  font-size="10.8" fill="#222">C8-3</text>
<path d="M489.40 346V350.4H514.20V346" fill="none" stroke="#1a1a1a" stroke-width="1.3"/>
<text x="501.80" y="366.5" text-anchor="middle"  font-size="10.8" fill="#222">TIL3</text>
<circle cx="422.5" cy="29.2" r="2.3" fill="#4c1258"/>
<text x="429" y="33.20"  font-size="10.9" fill="#1a1a1a" textLength="24.2" lengthAdjust="spacingAndGlyphs">VWF</text>
<circle cx="422.5" cy="49.4" r="2.3" fill="#c80a26"/>
<text x="429" y="53.40"  font-size="10.9" fill="#1a1a1a" textLength="47.2" lengthAdjust="spacingAndGlyphs">VWF•FVIII</text>
<circle cx="422.5" cy="70.2" r="2.3" fill="#f09a12"/>
<text x="429" y="74.20"  font-size="10.9" fill="#1a1a1a" textLength="83.2" lengthAdjust="spacingAndGlyphs">VWF (-VWF•FVIII)</text>
<text x="1.2" y="402.3"  font-weight="bold" font-size="16.2" fill="#111" stroke="#111" stroke-width="0.5">B</text>
<defs>
<radialGradient id="gv" gradientUnits="userSpaceOnUse" cx="102" cy="524" r="118" fx="102" fy="524">
<stop offset="0" stop-color="#f6f9fd"/><stop offset="0.3" stop-color="#dde9f7"/><stop offset="0.75" stop-color="#99bfe8"/><stop offset="1" stop-color="#6c9fdb"/></radialGradient>
<radialGradient id="gv2" gradientUnits="userSpaceOnUse" cx="396" cy="514" r="112" fx="396" fy="514">
<stop offset="0" stop-color="#f6f9fd"/><stop offset="0.3" stop-color="#dde9f7"/><stop offset="0.75" stop-color="#99bfe8"/><stop offset="1" stop-color="#6c9fdb"/></radialGradient>
<marker id="ah" viewBox="0 0 10 10" refX="9" refY="5" markerWidth="8.5" markerHeight="6.8" orient="auto-start-reverse" markerUnits="userSpaceOnUse" preserveAspectRatio="none"><path d="M0 0L10 5L0 10L2.5 5Z" fill="#111"/></marker>
<marker id="ah2" viewBox="0 0 10 10" refX="9.5" refY="5" markerWidth="9.5" markerHeight="7.6" orient="auto-start-reverse" markerUnits="userSpaceOnUse" preserveAspectRatio="none"><path d="M0 0L10 5L0 10L2.5 5Z" fill="#111"/></marker>
</defs>
<path d="M33.10 445.80C36.17 443.50 39.95 440.42 43.80 438.10C47.65 435.78 52.08 433.83 56.20 431.90C60.32 429.97 64.67 427.90 68.50 426.50C72.33 425.10 75.62 424.38 79.20 423.50C82.78 422.62 86.53 421.52 90.00 421.20C93.47 420.88 96.63 421.28 100.00 421.60C103.37 421.92 106.80 422.33 110.20 423.10C113.60 423.87 117.02 424.67 120.40 426.20C123.78 427.73 127.28 430.10 130.50 432.30C133.72 434.50 137.15 436.85 139.70 439.40C142.25 441.95 144.48 445.22 145.80 447.60C147.12 449.98 147.60 451.50 147.60 453.70C147.60 455.90 147.12 458.60 145.80 460.80C144.48 463.00 141.90 464.87 139.70 466.90C137.50 468.93 134.47 471.13 132.60 473.00C130.73 474.87 129.52 476.05 128.50 478.10C127.48 480.15 127.00 482.58 126.50 485.30C126.00 488.02 125.78 491.87 125.50 494.40C125.22 496.93 125.15 498.63 124.80 500.50C124.45 502.37 124.13 503.90 123.40 505.60C122.67 507.30 121.92 509.00 120.40 510.70C118.88 512.40 116.68 514.43 114.30 515.80C111.92 517.17 108.87 518.07 106.10 518.90C103.33 519.73 101.05 520.40 97.70 520.80C94.35 521.20 89.85 521.50 86.00 521.30C82.15 521.10 78.03 520.52 74.60 519.60C71.17 518.68 68.47 517.47 65.40 515.80C62.33 514.13 59.53 511.92 56.20 509.60C52.87 507.28 49.00 504.20 45.40 501.90C41.80 499.60 38.20 497.98 34.60 495.80C31.00 493.62 26.75 491.12 23.80 488.80C20.85 486.48 18.43 484.33 16.90 481.90C15.37 479.47 14.72 477.02 14.60 474.20C14.48 471.38 15.43 467.43 16.20 465.00C16.97 462.57 17.67 461.78 19.20 459.60C20.73 457.42 23.08 454.20 25.40 451.90C27.72 449.60 30.03 448.10 33.10 445.80Z" fill="url(#gv)" stroke="#46729f" stroke-width="1.1"/>
<text x="47.6" y="458.8"  font-size="11" fill="#15253d" stroke="#15253d" stroke-width="0.3">S</text>
<text x="36.6" y="478.8"  font-size="11" fill="#15253d" stroke="#15253d" stroke-width="0.3">S</text>
<line x1="48.1" y1="459.6" x2="42.7" y2="470" stroke="#15253d" stroke-width="1.1"/>
<text x="0.3" y="438.1"  font-size="11.2" fill="#222" stroke="#15253d" stroke-width="0.3">disulfide</text>
<line x1="19" y1="443.5" x2="41.2" y2="463.5" stroke="#111" stroke-width="1.4" marker-end="url(#ah)"/>
<text x="96" y="443.3"  font-size="11" fill="#15253d" stroke="#15253d" stroke-width="0.3">SH</text>
<text x="78.8" y="463.3"  font-size="11" fill="#15253d" stroke="#15253d" stroke-width="0.3">SH</text>
<text x="94" y="491.1"  font-size="11" fill="#15253d" stroke="#15253d" stroke-width="0.3">SH</text>
<text x="76.2" y="511.1"  font-size="11" fill="#15253d" stroke="#15253d" stroke-width="0.3">SH</text>
<line x1="124.4" y1="504.4" x2="95.3" y2="448.8" stroke="#111" stroke-width="1.4" marker-end="url(#ah)"/>
<line x1="124.4" y1="504.4" x2="89.4" y2="496.7" stroke="#111" stroke-width="1.4" marker-end="url(#ah)"/>
<text x="21" y="519.3"  font-size="15.3" fill="#1a1a1a" textLength="29.6" lengthAdjust="spacingAndGlyphs">VWF</text>
<text x="131.8" y="501.8"  font-size="11.0" fill="#222" stroke="#15253d" stroke-width="0.3">unformed</text>
<text x="131.8" y="515.7"  font-size="11.0" fill="#222" stroke="#15253d" stroke-width="0.3">disulfides</text>
<path d="M150.1 471.2H165.7M157.9 463.4V479" stroke="#111" stroke-width="1.6"/>
<path d="M210.60 430.00C215.55 429.80 219.08 430.30 222.70 431.10C226.32 431.90 229.10 432.78 232.30 434.80C235.50 436.82 239.08 439.80 241.90 443.20C244.72 446.60 246.98 450.78 249.20 455.20C251.42 459.62 253.60 464.87 255.20 469.70C256.80 474.53 258.12 479.78 258.80 484.20C259.48 488.62 259.70 492.40 259.30 496.20C258.90 500.00 258.08 504.18 256.40 507.00C254.72 509.82 253.22 511.48 249.20 513.10C245.18 514.72 237.93 516.30 232.30 516.70C226.67 517.10 220.22 516.50 215.40 515.50C210.58 514.50 206.20 513.12 203.40 510.70C200.60 508.28 200.02 503.82 198.60 501.00C197.18 498.18 196.52 495.80 194.90 493.80C193.28 491.80 191.50 491.02 188.90 489.00C186.30 486.98 181.90 484.92 179.30 481.70C176.70 478.48 174.52 473.70 173.30 469.70C172.08 465.70 171.78 461.68 172.00 457.70C172.22 453.72 173.02 449.33 174.60 445.80C176.18 442.27 178.43 438.75 181.50 436.50C184.57 434.25 188.15 433.38 193.00 432.30C197.85 431.22 205.65 430.20 210.60 430.00Z" fill="#c65a14" stroke="#5a4036" stroke-width="0.9"/>
<text x="203" y="478.7"  font-size="13.8" fill="#fde6cc" stroke="#fde6cc" stroke-width="0.25" textLength="26" lengthAdjust="spacingAndGlyphs">FVIII</text>
<line x1="262.8" y1="465.8" x2="312.4" y2="465.8" stroke="#111" stroke-width="1.6" marker-end="url(#ah2)"/>
<line x1="312.8" y1="475.5" x2="263.2" y2="475.5" stroke="#111" stroke-width="1.6" marker-end="url(#ah2)"/>
<path d="M403.30 412.20C407.93 411.87 411.40 411.62 415.60 412.40C419.80 413.18 424.18 414.87 428.50 416.90C432.82 418.93 437.18 422.02 441.50 424.60C445.82 427.18 450.95 430.02 454.40 432.40C457.85 434.78 460.68 437.17 462.20 438.90C463.72 440.63 463.72 441.50 463.50 442.80C463.28 444.10 462.83 445.43 460.90 446.70C458.97 447.97 455.30 449.42 451.90 450.40C448.50 451.38 444.07 451.42 440.50 452.60C436.93 453.78 433.10 455.33 430.50 457.50C427.90 459.67 426.05 462.22 424.90 465.60C423.75 468.98 423.75 473.62 423.60 477.80C423.45 481.98 423.90 487.03 424.00 490.70C424.10 494.37 424.70 497.42 424.20 499.80C423.70 502.18 422.87 503.48 421.00 505.00C419.13 506.52 416.50 507.85 413.00 508.90C409.50 509.95 405.32 511.30 400.00 511.30C394.68 511.30 386.10 510.05 381.10 508.90C376.10 507.75 373.70 506.25 370.00 504.40C366.30 502.55 362.97 500.20 358.90 497.80C354.83 495.40 350.05 492.60 345.60 490.00C341.15 487.40 335.73 484.80 332.20 482.20C328.67 479.60 326.07 477.17 324.40 474.40C322.73 471.63 322.20 468.37 322.20 465.60C322.20 462.83 322.92 460.95 324.40 457.80C325.88 454.65 328.32 450.22 331.10 446.70C333.88 443.18 337.22 439.85 341.10 436.70C344.98 433.55 349.22 430.58 354.40 427.80C359.58 425.02 366.63 422.23 372.20 420.00C377.77 417.77 382.62 415.70 387.80 414.40C392.98 413.10 398.67 412.53 403.30 412.20Z" fill="url(#gv2)" stroke="#46729f" stroke-width="1.1"/>
<text x="355.6" y="447.4"  font-size="11" fill="#15253d" stroke="#15253d" stroke-width="0.3">S</text>
<text x="345.4" y="467.6"  font-size="11" fill="#15253d" stroke="#15253d" stroke-width="0.3">S</text>
<line x1="357" y1="448.6" x2="351.4" y2="458.8" stroke="#15253d" stroke-width="1.1"/>
<text x="404.9" y="478.2"  font-size="11" fill="#15253d" stroke="#15253d" stroke-width="0.3">S</text>
<text x="395.0" y="498.4"  font-size="11" fill="#15253d" stroke="#15253d" stroke-width="0.3">S</text>
<line x1="406.7" y1="479.2" x2="401.1" y2="489.6" stroke="#15253d" stroke-width="1.1"/>
<text x="392.3" y="454.2"  font-size="11" fill="#15253d" stroke="#15253d" stroke-width="0.3">SH</text>
<text x="410.2" y="435"  font-size="11" fill="#15253d" stroke="#15253d" stroke-width="0.3">SH</text>
<text x="317.6" y="507.3"  font-size="11.0" fill="#222" stroke="#15253d" stroke-width="0.3">disulfide</text>
<text x="315.0" y="520.8"  font-size="11.0" fill="#222" stroke="#15253d" stroke-width="0.3">formation</text>
<line x1="367.7" y1="510.4" x2="390.9" y2="498.2" stroke="#111" stroke-width="1.4" marker-end="url(#ah)"/>
<path d="M467.40 451.90C472.58 452.30 478.25 453.55 483.00 455.70C487.75 457.85 492.45 461.12 495.90 464.80C499.35 468.48 501.53 473.48 503.70 477.80C505.87 482.12 507.47 486.00 508.90 490.70C510.33 495.40 511.68 500.98 512.30 506.00C512.92 511.02 513.37 516.30 512.60 520.80C511.83 525.30 510.13 530.27 507.70 533.00C505.27 535.73 501.62 536.33 498.00 537.20C494.38 538.07 490.67 538.13 486.00 538.20C481.33 538.27 474.08 537.93 470.00 537.60C465.92 537.27 463.93 537.22 461.50 536.20C459.07 535.18 456.93 534.20 455.40 531.50C453.87 528.80 453.58 523.08 452.30 520.00C451.02 516.92 449.75 514.92 447.70 513.00C445.65 511.08 442.33 509.83 440.00 508.50C437.67 507.17 435.45 507.08 433.70 505.00C431.95 502.92 430.57 500.10 429.50 496.00C428.43 491.90 427.62 484.95 427.30 480.40C426.98 475.85 427.15 471.73 427.60 468.70C428.05 465.67 428.12 464.23 430.00 462.20C431.88 460.17 435.25 457.98 438.90 456.50C442.55 455.02 447.15 454.07 451.90 453.30C456.65 452.53 462.22 451.50 467.40 451.90Z" fill="#c65a14" stroke="#5a4036" stroke-width="0.9"/>
<text x="457.6" y="500.8"  font-size="13.8" fill="#fde6cc" stroke="#fde6cc" stroke-width="0.25" textLength="26" lengthAdjust="spacingAndGlyphs">FVIII</text>
</svg>
</body></html>
